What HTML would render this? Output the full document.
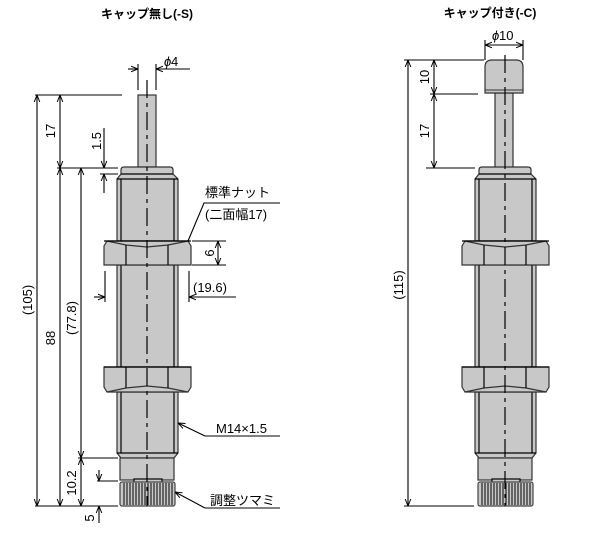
<!DOCTYPE html>
<html><head><meta charset="utf-8"><style>
html,body{margin:0;padding:0;background:#fff;}
svg{display:block;}
text{font-family:"Liberation Sans","Noto Sans CJK JP",sans-serif;font-size:13px;fill:#000;}
</style></head><body>
<svg width="606" height="533" viewBox="0 0 606 533" xmlns="http://www.w3.org/2000/svg">
<defs>
<marker id="a" viewBox="0 0 10 10" refX="10" refY="5" markerWidth="7" markerHeight="7" orient="auto-start-reverse" markerUnits="userSpaceOnUse"><path d="M0,1 L10,5 L0,9" fill="none" stroke="#000" stroke-width="1.4"/></marker>
<g id="body" stroke="#000" stroke-width="1.2" fill="#c8c8c8">
  <path d="M117,241 V179 L121,174 V170 Q121,167 124,167 H170 Q173,167 173,170 V174 L178,179 V241 Z" stroke="#333"/>
  <line x1="121" y1="174" x2="173" y2="174"/>
  <line x1="117" y1="179" x2="178" y2="179"/>
  <line x1="121" y1="179" x2="121" y2="241"/>
  <line x1="174" y1="179" x2="174" y2="241"/>
  <rect x="117" y="265" width="61" height="102" stroke="#333"/>
  <line x1="121" y1="265" x2="121" y2="367"/>
  <line x1="174" y1="265" x2="174" y2="367"/>
  <path d="M117,392 V453 L121,458 H174 L178,453 V392 Z" stroke="#333"/>
  <line x1="121" y1="392" x2="121" y2="453"/>
  <line x1="174" y1="392" x2="174" y2="453"/>
  <line x1="117" y1="453" x2="178" y2="453"/>
  <rect x="120" y="458" width="54" height="22" stroke="#333"/>
  <rect x="134" y="479" width="28" height="4"/>
  <rect x="120" y="482" width="55" height="24" rx="2" stroke="#444"/>
  <path d="M124,483V505M127,483V505M130,483V505M133,483V505M136,483V505M139,483V505M142,483V505M145,483V505M148,483V505M151,483V505M154,483V505M157,483V505M160,483V505M163,483V505M166,483V505M169,483V505M172,483V505" stroke="#000" stroke-width="1"/>
  <path d="M104,246 L107,241 H188 L191,246 V265 H104 Z" stroke="#333"/>
  <path d="M107,241 L126,245 L147,247 L168,245 L188,241" fill="none" stroke="#333"/>
  <line x1="126" y1="245" x2="126" y2="265"/>
  <line x1="168" y1="245" x2="168" y2="265"/>
  <path d="M104,367 H191 V387 L188,392 H107 L104,387 Z" stroke="#333"/>
  <path d="M107,392 L126,388 L147,386 L168,388 L188,392" fill="none" stroke="#333"/>
  <line x1="126" y1="367" x2="126" y2="388"/>
  <line x1="168" y1="367" x2="168" y2="388"/>
  <line x1="104" y1="241" x2="191" y2="241"/>
  <line x1="104" y1="367" x2="191" y2="367"/>
</g>
</defs>

<text x="147" y="18" text-anchor="middle" font-weight="bold" style="font-size:12px">キャップ無し(-S)</text>
<text x="490" y="17" text-anchor="middle" font-weight="bold" style="font-size:12px">キャップ付き(-C)</text>

<!-- LEFT -->
<rect x="138" y="95" width="18" height="72" fill="#c8c8c8" stroke="#333" stroke-width="1.2"/>
<use href="#body"/>
<line x1="147" y1="80" x2="147" y2="506" stroke="#000" stroke-width="1.2" stroke-dasharray="18,5,4,5"/>

<g stroke="#000" stroke-width="1.1" fill="none">
  <line x1="138" y1="64" x2="138" y2="90"/><line x1="156" y1="64" x2="156" y2="90"/>
  <line x1="128" y1="69" x2="138" y2="69" marker-end="url(#a)"/>
  <line x1="190" y1="69" x2="156" y2="69" marker-end="url(#a)"/>
  <line x1="35" y1="95" x2="122" y2="95"/>
  <line x1="57" y1="168" x2="118" y2="168"/>
  <line x1="100" y1="174" x2="118" y2="174"/>
  <line x1="35" y1="506" x2="118" y2="506"/>
  <line x1="97" y1="481" x2="118" y2="481"/>
  <line x1="78" y1="458" x2="118" y2="458"/>
  <line x1="37" y1="95" x2="37" y2="506" marker-start="url(#a)" marker-end="url(#a)"/>
  <line x1="60" y1="95" x2="60" y2="168" marker-start="url(#a)" marker-end="url(#a)"/>
  <line x1="60" y1="168" x2="60" y2="506" marker-start="url(#a)" marker-end="url(#a)"/>
  <line x1="81" y1="168" x2="81" y2="458" marker-start="url(#a)" marker-end="url(#a)"/>
  <line x1="81" y1="458" x2="81" y2="506" marker-start="url(#a)" marker-end="url(#a)"/>
  <line x1="104" y1="128" x2="104" y2="168" marker-end="url(#a)"/>
  <line x1="104" y1="193" x2="104" y2="174" marker-end="url(#a)"/>
  <line x1="99" y1="470" x2="99" y2="481" marker-end="url(#a)"/>
  <line x1="99" y1="523" x2="99" y2="506" marker-end="url(#a)"/>
  <line x1="192" y1="241" x2="226" y2="241"/>
  <line x1="192" y1="265" x2="226" y2="265"/>
  <line x1="218" y1="241" x2="218" y2="265" marker-start="url(#a)" marker-end="url(#a)"/>
  <line x1="105" y1="271" x2="105" y2="302"/>
  <line x1="189" y1="271" x2="189" y2="302"/>
  <line x1="94" y1="297" x2="105" y2="297" marker-end="url(#a)"/>
  <line x1="236" y1="297" x2="189" y2="297" marker-end="url(#a)"/>
  <polyline points="188,241 204,203 280,203"/>
  <line x1="205" y1="436" x2="178" y2="423" marker-end="url(#a)"/>
  <line x1="205" y1="436" x2="280" y2="436"/>
  <line x1="205" y1="508" x2="175" y2="492" marker-end="url(#a)"/>
  <line x1="205" y1="508" x2="280" y2="508"/>
</g>

<text x="164" y="66" font-style="italic">ϕ</text><text x="171" y="66">4</text>
<text transform="translate(32,300) rotate(-90)" text-anchor="middle">(105)</text>
<text transform="translate(55,131) rotate(-90)" text-anchor="middle">17</text>
<text transform="translate(55,338) rotate(-90)" text-anchor="middle">88</text>
<text transform="translate(76,318) rotate(-90)" text-anchor="middle">(77.8)</text>
<text transform="translate(76,483) rotate(-90)" text-anchor="middle">10.2</text>
<text transform="translate(101,141) rotate(-90)" text-anchor="middle">1.5</text>
<text transform="translate(94,518) rotate(-90)" text-anchor="middle">5</text>
<text transform="translate(214,253) rotate(-90)" text-anchor="middle">6</text>
<text x="193" y="292">(19.6)</text>
<text x="205" y="197">標準ナット</text>
<text x="205" y="219">(二面幅17)</text>
<text x="216" y="433">M14×1.5</text>
<text x="210" y="505">調整ツマミ</text>

<!-- RIGHT -->
<rect x="495" y="93" width="18" height="75" fill="#c8c8c8" stroke="#333" stroke-width="1.2"/>
<path d="M485,93 V67 Q485,60 492,60 H516 Q523,60 523,67 V93 Z" fill="#c8c8c8" stroke="#333" stroke-width="1.2"/>
<line x1="485" y1="90" x2="523" y2="90" stroke="#333"/>
<use href="#body" transform="translate(358,0)"/>
<line x1="505" y1="55" x2="505" y2="506" stroke="#000" stroke-width="1.2" stroke-dasharray="18,5,4,5"/>

<g stroke="#000" stroke-width="1.1" fill="none">
  <line x1="485" y1="40" x2="485" y2="60"/><line x1="523" y1="40" x2="523" y2="60"/>
  <line x1="485" y1="45" x2="523" y2="45" marker-start="url(#a)" marker-end="url(#a)"/>
  <line x1="404" y1="60" x2="484" y2="60"/>
  <line x1="430" y1="94" x2="478" y2="94"/>
  <line x1="426" y1="168" x2="475" y2="168"/>
  <line x1="404" y1="506" x2="474" y2="506"/>
  <line x1="408" y1="60" x2="408" y2="506" marker-start="url(#a)" marker-end="url(#a)"/>
  <line x1="434" y1="60" x2="434" y2="94" marker-start="url(#a)" marker-end="url(#a)"/>
  <line x1="434" y1="94" x2="434" y2="168" marker-start="url(#a)" marker-end="url(#a)"/>
</g>
<text x="492" y="40" font-style="italic">ϕ</text><text x="499" y="40">10</text>
<text transform="translate(403,285) rotate(-90)" text-anchor="middle">(115)</text>
<text transform="translate(429,77) rotate(-90)" text-anchor="middle">10</text>
<text transform="translate(429,131) rotate(-90)" text-anchor="middle">17</text>
</svg>
</body></html>
